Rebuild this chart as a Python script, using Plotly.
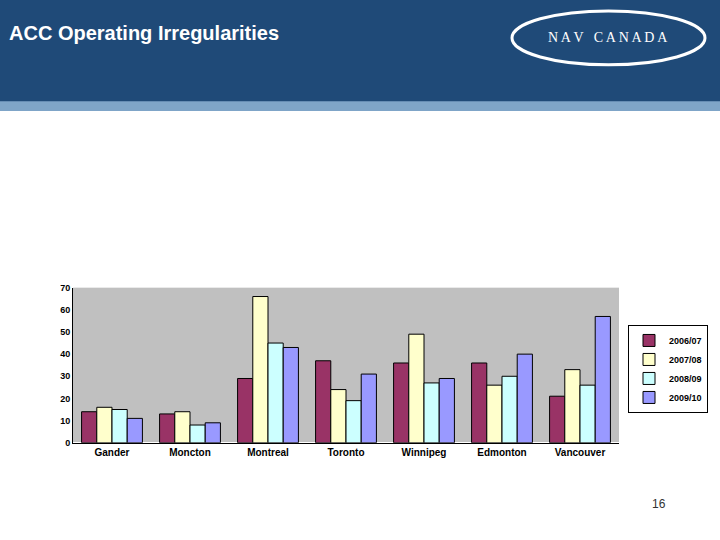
import plotly.graph_objects as go

categories = ["Gander", "Moncton", "Montreal", "Toronto", "Winnipeg", "Edmonton", "Vancouver"]
series_names = ["2006/07", "2007/08", "2008/09", "2009/10"]
v0607 = [14, 13, 29, 37, 36, 36, 21]
v0708 = [16, 14, 66, 24, 49, 26, 33]
v0809 = [15, 8, 45, 19, 27, 30, 26]
v0910 = [11, 9, 43, 31, 29, 40, 57]
colors = ["#993366", "#FFFFCC", "#CCFFFF", "#9999FF"]

fig = go.Figure()
for name, vals, c in zip(series_names, [v0607, v0708, v0809, v0910], colors):
    fig.add_trace(go.Bar(x=categories, y=vals, name="<b>" + name + "</b>", marker=dict(color=c, line=dict(color="black", width=1))))

W, H = 720, 540
def px(x): return x / W
def py(y): return 1 - y / H

fig.update_layout(
    width=W, height=H, margin=dict(l=0, r=0, t=0, b=0),
    paper_bgcolor="white", plot_bgcolor="#C0C0C0",
    bargap=0.22, bargroupgap=0,
    font=dict(family="Liberation Sans, Arial", size=10, color="black"),
    xaxis=dict(domain=[px(73), px(619)], showline=True, linecolor="black", ticks="outside", ticklen=0,
               tickfont=dict(size=10, family="Liberation Sans, Arial"), showgrid=False,
               tickprefix="<b>", ticksuffix="</b>"),
    yaxis=dict(domain=[py(446), py(288)], range=[0, 70], dtick=10, showgrid=False, showline=True, linecolor="black",
               tickfont=dict(size=9), tickprefix="<b>", ticksuffix="</b>"),
    legend=dict(x=px(628), y=py(326), xanchor="left", yanchor="top", bordercolor="black", borderwidth=1,
                bgcolor="white", font=dict(size=9), tracegroupgap=0, itemwidth=30),
    shapes=[
        dict(type="rect", xref="paper", yref="paper", x0=0, x1=1, y0=py(100), y1=1.02, fillcolor="#1F4A78", line=dict(width=0), layer="below"),
        dict(type="rect", xref="paper", yref="paper", x0=0, x1=1, y0=py(108), y1=py(98), fillcolor="#7FA5C8", line=dict(width=0), layer="below"),
        dict(type="circle", xref="paper", yref="paper", x0=px(512), x1=px(705), y0=py(61), y1=py(6), fillcolor="#1F4A78", line=dict(color="white", width=3)),
    ],
    annotations=[
        dict(text="<b>ACC Operating Irregularities</b>", xref="paper", yref="paper", x=px(7), y=py(29), xanchor="left", yanchor="middle",
             showarrow=False, font=dict(size=20, color="white", family="Liberation Sans, Arial")),
        dict(text="N A V   C A N A D A", xref="paper", yref="paper", x=px(608), y=py(33), xanchor="center", yanchor="middle",
             showarrow=False, font=dict(size=14, color="white", family="Liberation Serif")),
        dict(text="16", xref="paper", yref="paper", x=px(668), y=py(518), showarrow=False,
             font=dict(size=12, color="#333333", family="Liberation Sans, Arial")),
    ],
)
fig.write_html("out.html", config={"displayModeBar": False},
               post_script="document.body.style.margin='0';document.body.style.padding='0';")
